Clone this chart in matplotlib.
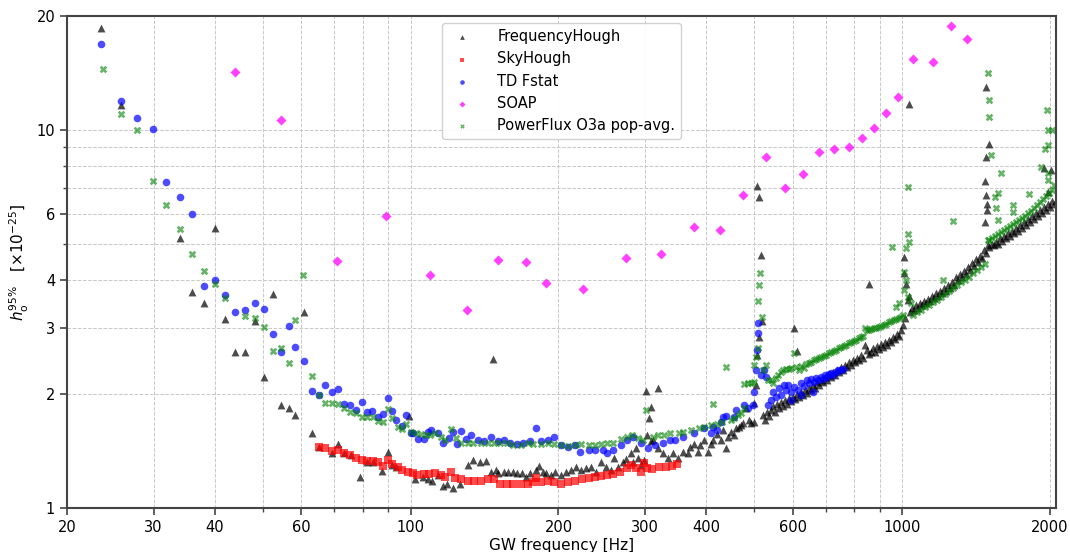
import matplotlib
matplotlib.use("Agg")
import matplotlib.pyplot as plt
from matplotlib.ticker import FixedLocator, NullFormatter, FixedFormatter

# upper limits h0 (x1e-25) vs GW frequency for each search pipeline
fh_freq = [23.5, 25.7, 33.9, 40.0, 36.0, 38.0, 42.0, 44.0, 46.1, 48.2, 50.3, 52.5, 54.5, 56.6, 58.3, 60.8,
           62.9, 65.0, 69.1, 71.1, 73.2, 75.5, 79.1, 81.4, 83.7, 87.3, 89.8, 91.9, 93.6, 99.5, 102, 106,
           108.3, 110.8, 113.5, 116.2, 118.9, 122.3, 125.8, 130.7, 134.3, 138.2, 142.1, 147.5, 145.5, 148.9,
           151, 154.6, 158.2, 161.9, 164.9, 168.9, 171.4, 175.4, 179.6, 182.2, 185.6, 188.2, 192.7, 197.2,
           201.9, 206.7, 211.7, 216.7, 221.8, 227.1, 232.5, 238, 243.6, 249.4, 255.3, 259, 264, 270, 274,
           280.4, 283, 287, 289.8, 294, 298, 302, 319, 308, 305, 303, 308, 312, 319, 326, 334, 342, 350,
           359, 367, 371, 377, 384, 389, 395, 402, 408, 413, 420, 428, 432, 438, 442, 448, 455, 459, 465,
           470, 474, 481, 488, 492, 499, 504, 501, 508, 511, 518, 516, 508, 511,
           520.6, 525.6, 530.6, 535.6, 540.6, 545.7, 551, 556, 561.3, 566.6, 572, 577, 583, 588, 594, 599,
           605, 610, 616, 622, 628, 634, 640, 646, 652, 658, 664, 671, 677, 683.5, 690, 696, 703, 709, 716,
           723, 730, 737, 744, 751, 758, 765, 772, 779, 787, 794, 801.6, 809, 817, 824.5, 832, 840, 848,
           856, 856, 864, 872, 880, 888.6, 897, 905.6, 914, 923, 931.5, 940, 949, 958, 967, 976, 985,
           994.6, 1004, 1009, 1009, 1018, 1014, 1028, 1033, 1033, 1038, 1047, 1057, 1067, 1077, 1087,
           1097, 1108, 1118, 1129, 1139, 1150, 1161, 1172, 1183, 1194, 1206, 1217, 1228, 1240, 1252, 1263,
           1275, 1287, 1299, 1312, 1324, 1336, 1349, 1362, 1375, 1388, 1401, 1414, 1427, 1441, 1454, 1468,
           1482, 1475, 1489, 1489, 1482, 1475, 1482, 1503, 1482, 1496, 1503, 1524, 1539, 1553, 1568, 1582,
           1597, 1612, 1627, 1642, 1658, 1674, 1689, 1705, 1721, 1737, 1754, 1770, 1787, 1804, 1821, 1838,
           1855, 1873, 1890, 1908, 1926, 1944, 1963, 1981, 2000, 2019, 2038, 1944, 2009, 1981,
           602, 612]
fh_h0 = [18.6, 11.6, 5.18, 5.5, 3.73, 3.49, 3.16, 2.59, 2.59, 3.12, 2.22, 3.68, 1.87, 1.84, 1.76, 3.30,
         1.58, 1.45, 1.40, 1.48, 1.40, 1.38, 1.21, 1.32, 1.32, 1.25, 1.41, 1.30, 1.28, 1.75, 1.19, 1.21,
         1.19, 1.18, 1.22, 1.14, 1.16, 1.13, 1.16, 1.30, 1.34, 1.32, 1.33, 2.48, 1.245, 1.26,
         1.24, 1.245, 1.245, 1.245, 1.24, 1.24, 1.21, 1.24, 1.26, 1.29, 1.245, 1.24, 1.22, 1.245,
         1.22, 1.245, 1.26, 1.28, 1.26, 1.275, 1.28, 1.245, 1.32, 1.28, 1.26, 1.36, 1.28, 1.32, 1.35,
         1.40, 1.32, 1.44, 1.36, 1.30, 1.34, 2.04, 2.08, 1.85, 1.73, 1.56, 1.50, 1.51, 1.44, 1.40, 1.36, 1.40, 1.36,
         1.41, 1.40, 1.45, 1.48, 1.41, 1.47, 1.51, 1.41, 1.48, 1.51, 1.57, 1.51, 1.61, 1.44, 1.54, 1.59, 1.56, 1.63, 1.64,
         1.66, 1.68, 1.84, 1.71, 1.68, 1.69, 2.12, 1.89, 2.54, 2.83, 3.12, 4.68, 7.1, 6.64,
         1.76, 1.71, 1.79, 1.75, 1.82, 1.86, 1.79, 1.88, 1.84, 1.91, 1.86, 1.93, 1.88, 1.955, 1.92, 1.97,
         1.94, 2.00, 1.96, 2.03, 1.99, 2.05, 2.01, 2.08, 2.05, 2.12, 2.08, 2.15, 2.12, 2.18, 2.15, 2.22, 2.18, 2.25, 2.22,
         2.29, 2.25, 2.32, 2.29, 2.36, 2.32, 2.39, 2.36, 2.43, 2.39, 2.46, 2.43, 2.49, 2.46, 2.54, 2.50, 2.70, 2.62,
         3.91, 2.56, 2.59, 2.65, 2.59, 2.68, 2.63, 2.72, 2.67, 2.75, 2.70, 2.78, 2.75, 2.83, 2.80, 2.89, 2.85,
         2.96, 3.05, 4.19, 4.6, 3.90, 3.18, 3.55, 3.64, 11.7, 3.30, 3.39, 3.34, 3.45, 3.39, 3.49,
         3.45, 3.53, 3.49, 3.57, 3.53, 3.63, 3.60, 3.70, 3.63, 3.74, 3.70, 3.81, 3.74, 3.88, 3.81, 3.95,
         3.88, 4.08, 4.01, 4.16, 4.08, 4.23, 4.16, 4.33, 4.26, 4.44, 4.36, 4.55, 4.47, 4.65, 4.58, 4.81,
         4.73, 5.71, 6.14, 6.38, 6.73, 7.34, 8.48, 9.18, 13.0, 4.96, 4.90, 5.00, 4.96, 5.05, 5.00, 5.18,
         5.08, 5.23, 5.18, 5.33, 5.23, 5.39, 5.33, 5.50, 5.39, 5.60, 5.50, 5.71, 5.60, 5.81, 5.71, 5.92,
         5.81, 6.03, 5.92, 6.14, 6.03, 6.25, 6.14, 6.37, 6.25, 6.49, 6.37, 7.92, 7.82, 6.85,
         3.0, 2.6]

sh_freq = [65.0, 66.9, 69.1, 71.1, 73.2, 75.3, 77.4, 79.6, 81.5, 83.8, 85.7, 87.7, 89.8, 91.9, 94.1, 96.3,
           98.6, 101, 103.3, 106.3, 108.8, 111.9, 115.1, 117.8, 120.6, 123.4, 126.4, 130.7, 134.5, 138.8,
           143.5, 147.6, 152.4, 157.5, 161.9, 167.4, 173, 177.9, 180.4, 183.9, 190.2, 195.5, 202, 209,
           215.6, 222.9, 230.5, 237.1, 243.6, 251.6, 258.2, 267, 275.9, 281.5, 288, 294.8, 299, 303, 310,
           320, 331, 341, 349]
sh_h0 = [1.45, 1.44, 1.415, 1.42, 1.40, 1.38, 1.36, 1.34, 1.33, 1.33, 1.32, 1.29, 1.34, 1.31, 1.28, 1.26,
         1.245, 1.24, 1.22, 1.23, 1.23, 1.24, 1.22, 1.21, 1.245, 1.20, 1.19, 1.18, 1.18, 1.18,
         1.19, 1.19, 1.16, 1.16, 1.16, 1.16, 1.16, 1.17, 1.20, 1.17, 1.18, 1.17, 1.16, 1.17,
         1.18, 1.19, 1.20, 1.21, 1.215, 1.22, 1.23, 1.245, 1.276, 1.30, 1.276, 1.245, 1.315, 1.276, 1.27,
         1.28, 1.28, 1.29, 1.31]

td_freq = [23.5, 25.7, 27.8, 29.9, 31.8, 34.0, 36.0, 38.0, 40.0, 42.0, 44.0, 46.1, 48.2, 50.3, 52.5, 54.5,
           56.6, 58.3, 60.8, 62.9, 65.0, 66.9, 69.1, 71.1, 73.2, 75.3, 77.3, 79.5, 81.4, 83.3, 85.7, 87.7,
           89.8, 91.9, 93.6, 95.9, 98.1, 100, 101.4, 103.8, 106.3, 108.3, 110.3, 113.5, 116.2, 119.5, 122.3,
           124.6, 126.4, 129.4, 133, 137, 140.8, 145.5, 150.3, 154.6, 159.7, 165, 169.7, 175.4, 180.4,
           183.9, 190.2, 195.5, 201.9, 209, 215.6, 220.8, 230.5, 237, 246, 251.6, 258, 267.6, 276, 283,
           294, 304.6, 315, 326, 336.7, 346, 359, 377, 395, 408, 412, 420, 428, 433, 439, 455, 459, 476,
           485.8, 497.6, 501, 504, 506, 508.6, 508.6, 516, 523, 528, 533, 540.6, 545.7, 553.5, 561, 566.6,
           574, 580, 585, 594, 602, 613, 622, 631, 640, 646, 652, 661, 668, 674, 683.5, 690, 696, 703,
           709, 716, 723, 733, 740, 751, 758, 594, 622, 658]
td_h0 = [16.9, 11.9, 10.75, 10.05, 7.3, 6.64, 6.0, 3.87, 4.01, 3.66, 3.30, 3.34, 3.49, 3.36, 2.89, 2.59,
         3.03, 2.67, 2.45, 2.04, 1.99, 2.12, 2.03, 2.06, 1.88, 1.87, 1.82, 1.91, 1.79, 1.80, 1.74, 1.77,
         1.955, 1.80, 1.71, 1.65, 1.76, 1.58, 1.58, 1.52, 1.52, 1.59, 1.61, 1.58, 1.49, 1.53, 1.59,
         1.48, 1.60, 1.52, 1.56, 1.51, 1.50, 1.54, 1.50, 1.51, 1.49, 1.48, 1.49, 1.50, 1.63,
         1.50, 1.51, 1.54, 1.47, 1.45, 1.47, 1.41, 1.42, 1.42, 1.42, 1.40, 1.42, 1.47, 1.51, 1.54,
         1.49, 1.44, 1.47, 1.49, 1.51, 1.51, 1.54, 1.58, 1.63, 1.58, 1.64, 1.61, 1.69, 1.74, 1.75, 1.74, 1.82, 1.87,
         1.84, 1.87, 2.03, 2.32, 2.62, 2.90, 3.08, 2.25, 2.32, 2.22, 1.87, 1.93, 2.03, 1.965, 2.08, 1.99,
         2.12, 2.05, 2.12, 2.03, 2.09, 2.05, 2.14, 2.10, 2.18, 2.14, 2.19, 2.16, 2.21, 2.18, 2.22, 2.19, 2.25, 2.22,
         2.26, 2.28, 2.25, 2.29, 2.32, 2.32, 2.33, 1.93, 1.99, 2.03]

soap_freq = [43.9, 54.5, 70.8, 89.2, 109.7, 130.4, 151, 172, 189, 224, 275, 324, 377, 426, 474, 528, 578,
             630, 678, 727, 780, 828, 876, 928, 982, 1054, 1155, 1258, 1356]
soap_h0 = [14.2, 10.6, 4.5, 5.93, 4.14, 3.34, 4.53, 4.47, 3.94, 3.8, 4.58, 4.7, 5.53, 5.44, 6.74, 8.5, 7.0,
           7.64, 8.76, 8.9, 9.0, 9.5, 10.1, 11.1, 12.2, 15.4, 15.1, 18.8, 17.4]

pf_freq = [23.7, 25.7, 27.8, 29.9, 31.8, 34.0, 36.0, 38.0, 40.0, 42.0, 46.1, 48.2, 50.3, 52.5, 54.5, 56.6,
           58.3, 60.4, 62.9, 65.0, 66.9, 69.1, 71.1, 73.2, 75.3, 77.3, 79.5, 81.4, 83.7, 85.7, 87.7, 89.8,
           91.9, 94.1, 95.9, 98.1, 100, 102.4, 104.8, 107.3, 109.8, 112.4, 115.1, 117.8, 120.6, 123.5,
           126.4, 130.7, 134.3, 138.8, 143.5, 147.6, 152.4, 157.5, 161.9, 167.4, 173, 177.9, 183.9, 190.2,
           195.5, 201.9, 209, 215.6, 221.8, 230.5, 237, 243.6, 251.6, 258, 267.6, 276, 282, 289.8, 297,
           302, 311, 319, 328, 338, 351, 359, 371.5, 386, 395, 408, 413, 420, 431, 439, 448, 455, 463, 470,
           476, 478, 486, 492, 499, 499, 504, 508.6, 508.6, 511, 513.5, 518, 520.6, 528, 533, 540.6, 545.7,
           553.5, 558.8, 566.6, 572, 580, 588, 602, 594, 608, 616, 622, 631, 637, 646, 652, 661, 668, 677,
           683.5, 693, 700, 709, 716, 727, 733, 744, 751, 761, 768.5, 779, 787, 797, 805, 817, 824.5, 832,
           840, 848, 856, 864, 876, 884.6, 897, 905.6, 918, 927, 940, 949, 962, 971.6, 985, 994.6, 1004,
           971.6, 985, 1009, 1018, 1009, 1028, 1042, 1018, 1028, 1033, 1028, 954,
           1052, 1072, 1092, 1113, 1134, 1156, 1178, 1200, 1223, 1246, 1269, 1293, 1318, 1343, 1368, 1394,
           1421, 1447, 1475, 1211, 1269, 1496, 1517, 1496, 1503, 1503, 1589, 1546, 1568, 1553, 1568, 1681,
           1681, 1812, 1917, 1981, 1981, 1972, 1981, 2019, 1981, 1954,
           1503, 1524, 1546, 1568, 1589, 1612, 1635, 1658, 1681, 1705, 1729, 1754, 1779, 1804, 1829, 1855,
           1881, 1908, 1935, 1963, 1990, 2019, 2038]
pf_h0 = [14.5, 11.0, 10.0, 7.33, 6.32, 5.47, 4.7, 4.24, 3.91, 3.60, 3.22, 3.18, 3.01, 2.60, 2.65, 2.42,
         3.14, 4.14, 2.23, 1.99, 1.90, 1.90, 1.885, 1.84, 1.79, 1.78, 1.74, 1.74, 1.74, 1.70, 1.69, 1.83,
         1.73, 1.64, 1.62, 1.67, 1.59, 1.58, 1.57, 1.56, 1.56, 1.58, 1.54, 1.51, 1.62, 1.53,
         1.49, 1.485, 1.485, 1.49, 1.485, 1.485, 1.485, 1.485, 1.47, 1.47, 1.485, 1.48, 1.48, 1.485,
         1.48, 1.47, 1.46, 1.47, 1.48, 1.47, 1.47, 1.48, 1.485, 1.49, 1.52, 1.54, 1.56, 1.53, 1.51,
         1.82, 1.54, 1.56, 1.56, 1.58, 1.58, 1.59, 1.61, 1.63, 1.64, 1.66, 1.88, 1.67, 1.69, 2.36, 1.71, 1.73, 1.76, 1.78,
         1.84, 2.13, 2.14, 2.14, 2.15, 2.39, 2.51, 2.65, 3.53, 3.88, 4.19, 3.19, 2.32, 2.39, 2.18, 2.18, 2.14,
         2.21, 2.25, 2.29, 2.32, 2.33, 2.33, 2.57, 2.35, 2.36, 2.32, 2.37, 2.35, 2.40, 2.42, 2.43, 2.46, 2.48, 2.49,
         2.51, 2.52, 2.54, 2.57, 2.59, 2.60, 2.62, 2.65, 2.67, 2.68, 2.70, 2.73, 2.75, 2.76, 2.78, 2.82, 2.83, 2.85,
         2.99, 2.96, 2.96, 2.98, 2.99, 2.99, 3.01, 3.03, 3.05, 3.06, 3.10, 3.12, 3.14, 3.16, 3.18, 3.20, 3.24,
         3.40, 3.48, 3.77, 4.01, 4.21, 3.61, 3.49, 4.87, 5.31, 5.05, 7.08, 4.90,
         3.24, 3.30, 3.34, 3.40, 3.45, 3.51, 3.55, 3.61, 3.68, 3.74, 3.81, 3.88, 3.95, 4.02, 4.09, 4.17,
         4.26, 4.34, 4.41, 4.01, 5.74, 5.12, 8.58, 14.1, 12.0, 10.8, 7.70, 6.64, 6.81, 6.22, 5.78, 6.33,
         6.06, 6.78, 7.96, 7.70, 7.37, 11.3, 10.0, 10.0, 9.1, 8.9,
         5.12, 5.18, 5.24, 5.30, 5.37, 5.44, 5.50, 5.57, 5.64, 5.71, 5.78, 5.85, 5.92, 6.03, 6.10, 6.22,
         6.33, 6.45, 6.57, 6.69, 6.81, 6.94, 7.15]

x_major = [20, 30, 40, 60, 100, 200, 300, 400, 600, 1000, 2000]
x_minor = [50, 70, 80, 90, 500, 700, 800, 900]
y_major = [1, 2, 3, 4, 6, 10, 20]
y_minor = [5, 7, 8, 9]

fig = plt.figure(figsize=(10.7, 5.52), dpi=100)
ax = fig.add_axes([0.0626, 0.0797, 0.9243, 0.8913])

ax.scatter(fh_freq, fh_h0, marker='^', s=32, color='black', alpha=0.7, linewidths=0, label='FrequencyHough')
ax.scatter(sh_freq, sh_h0, marker='s', s=28, color='red', alpha=0.7, linewidths=0, label='SkyHough')
ax.scatter(td_freq, td_h0, marker='o', s=30, color='blue', alpha=0.7, linewidths=0, label='TD Fstat')
ax.scatter(soap_freq, soap_h0, marker='D', s=26, color='magenta', alpha=0.75, linewidths=0, label='SOAP')
ax.scatter(pf_freq, pf_h0, marker='X', s=30, color='green', alpha=0.6, linewidths=0, label='PowerFlux O3a pop-avg.')

ax.set_xscale('log')
ax.set_yscale('log')
ax.set_xlim(20, 2057)
ax.set_ylim(1, 20)

ax.xaxis.set_major_locator(FixedLocator(x_major))
ax.xaxis.set_major_formatter(FixedFormatter([str(v) for v in x_major]))
ax.xaxis.set_minor_locator(FixedLocator(x_minor))
ax.xaxis.set_minor_formatter(NullFormatter())
ax.yaxis.set_major_locator(FixedLocator(y_major))
ax.yaxis.set_major_formatter(FixedFormatter([str(v) for v in y_major]))
ax.yaxis.set_minor_locator(FixedLocator(y_minor))
ax.yaxis.set_minor_formatter(NullFormatter())
ax.tick_params(which='major', labelsize=10.5, length=5, width=1.2, color='#444444')
ax.tick_params(which='minor', length=3, width=1.0, color='#444444')

ax.grid(True, which='both', linestyle='--', linewidth=0.7, color='#c8c8c8')
ax.set_axisbelow(True)
for sp in ax.spines.values():
    sp.set_linewidth(1.5)
    sp.set_color('#444444')

ax.set_xlabel('GW frequency [Hz]', fontsize=11, labelpad=2)
ax.set_ylabel(r'$h_{\rm o}^{95\%}$   [$\times10^{-25}$]', fontsize=11)

ax.legend(loc='upper center', fontsize=10.5, markerscale=0.6, labelspacing=0.5, handletextpad=1.4,
          borderaxespad=0.5, framealpha=0.9)

fig.savefig('out.png', dpi=100)
